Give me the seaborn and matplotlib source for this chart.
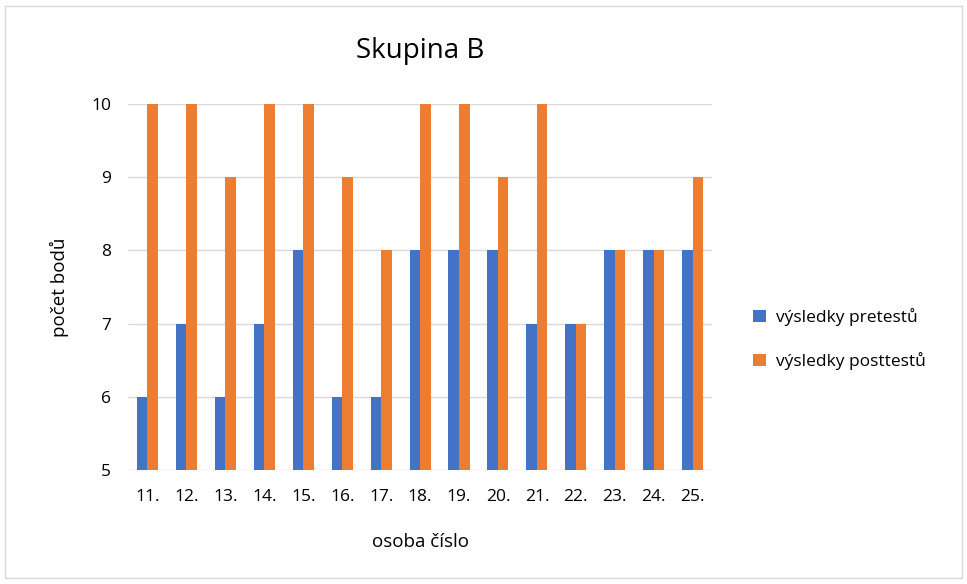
import numpy as np
import pandas as pd
import seaborn as sns
import matplotlib.pyplot as plt
from matplotlib.patches import Rectangle

osoby = ["11.", "12.", "13.", "14.", "15.", "16.", "17.", "18.",
         "19.", "20.", "21.", "22.", "23.", "24.", "25."]
pretest = [6, 7, 6, 7, 8, 6, 6, 8, 8, 8, 7, 7, 8, 8, 8]
posttest = [10, 10, 9, 10, 10, 9, 8, 10, 10, 9, 10, 7, 8, 8, 9]
serie = ["výsledky pretestů", "výsledky posttestů"]
barvy = ["#4472C4", "#ED7D31"]

df = pd.DataFrame({
    "osoba": osoby * 2,
    "body": pretest + posttest,
    "serie": [serie[0]] * len(osoby) + [serie[1]] * len(osoby),
})

sns.set_style("white")
plt.rcParams["font.family"] = ["Open Sans", "DejaVu Sans"]
plt.rcParams["text.color"] = "black"
plt.rcParams["axes.labelcolor"] = "black"

fig = plt.figure(figsize=(9.67, 5.84), dpi=100)
ax = fig.add_axes([0.1324, 0.1952, 0.604, 0.6267])

sns.barplot(data=df, x="osoba", y="body", hue="serie", palette=barvy,
            width=0.54, saturation=1, linewidth=0, ax=ax, legend=True)

ax.set_ylim(5, 10)
ax.set_yticks([5, 6, 7, 8, 9, 10])
ax.yaxis.grid(True, color="#D9D9D9", linewidth=1)
ax.set_axisbelow(True)
for s in ax.spines.values():
    s.set_visible(False)
ax.tick_params(axis="both", length=0, labelsize=12.5, colors="black")
ax.tick_params(axis="x", pad=14)
ax.tick_params(axis="y", pad=12)
ax.set_xlabel("osoba číslo", fontsize=13.5, labelpad=20, color="black")
ax.set_ylabel("počet bodů", fontsize=13.5, labelpad=16, color="black")
ax.set_title("Skupina B", fontsize=20, pad=33, color="black")

handles, labels = ax.get_legend_handles_labels()
ax.legend_.remove()
fig.legend(handles, labels, loc="center left", bbox_to_anchor=(0.763, 0.42),
           frameon=False, fontsize=12.5, handlelength=0.7, handleheight=0.7,
           labelspacing=1.5, handletextpad=0.6)

fig.patches.append(Rectangle((0.005, 0.01), 0.99, 0.98, transform=fig.transFigure,
                             fill=False, edgecolor="#D9D9D9", linewidth=1))

plt.savefig("out.png", dpi=100)
